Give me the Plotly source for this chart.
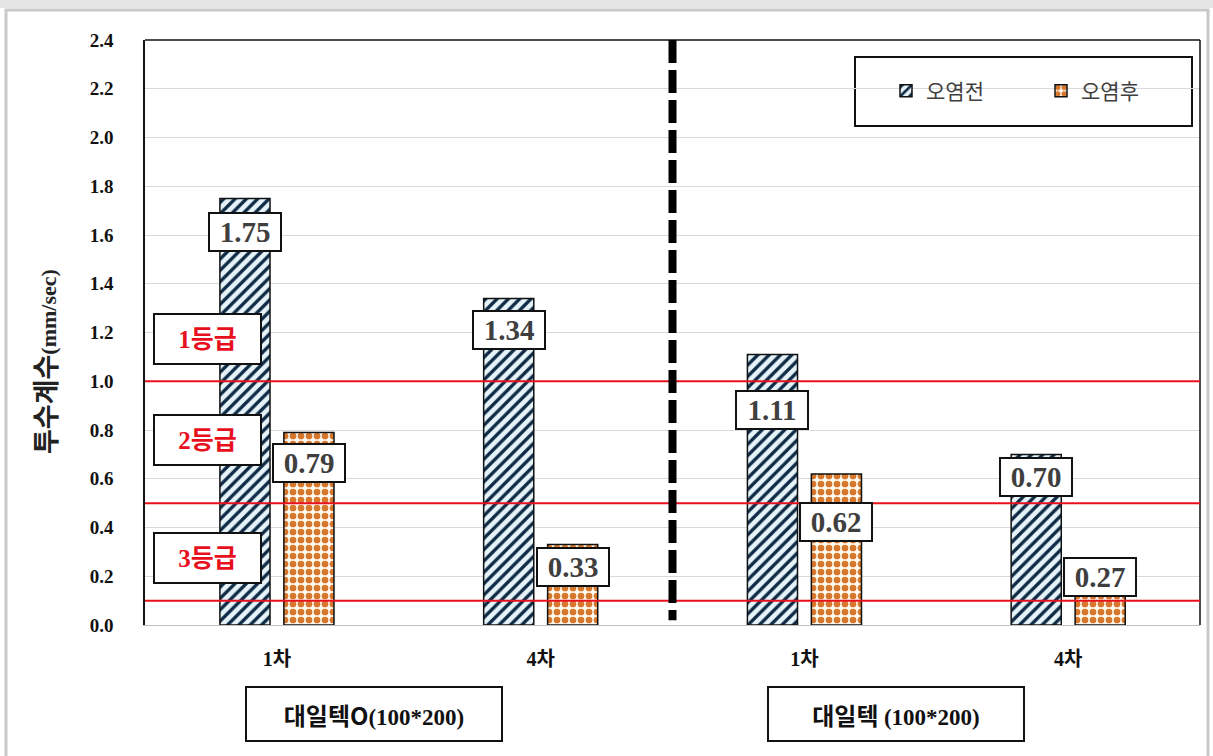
import plotly.graph_objects as go

# ---------------- data ----------------
categories = ["1차", "4차", "1차", "4차"]
before_vals = [1.75, 1.34, 1.11, 0.70]   # 오염전
after_vals = [0.79, 0.33, 0.62, 0.27]    # 오염후
series_names = ["오염전", "오염후"]
grade_lines = [1.0, 0.5, 0.1]
grade_names = ["1등급", "2등급", "3등급"]
group_names = ["대일텍O", "대일텍 "]
group_size = "(100*200)"
y_ticks = [0.0, 0.2, 0.4, 0.6, 0.8, 1.0, 1.2, 1.4, 1.6, 1.8, 2.0, 2.2, 2.4]

# ---------------- layout constants (placement only) ----------------
W, H = 1213, 756
L, R, T, B = 145, 13, 40, 131
PW, PH = W - L - R, H - T - B
def px_x(p):  # pixel -> paper x
    return (p - L) / PW
def px_y(p):  # pixel -> paper y
    return (H - B - p) / PH

BAR_W = 0.19
BLUE_OFF = -0.216
ORANGE_OFF = 0.0265
before_label_y = [1.614, 1.21, 0.882, 0.607]
after_label_y = [0.665, 0.238, 0.423, 0.197]
grade_label_y = [1.173, 0.759, 0.275]
group_box_px = [374, 896]

xs = list(range(len(categories)))
serif = "Liberation Serif, Noto Sans CJK KR"
kr = "Noto Sans CJK KR"

fig = go.Figure()
fig.add_trace(go.Bar(
    x=xs, y=before_vals, name=series_names[0], width=BAR_W, offset=BLUE_OFF,
    marker=dict(color="#dcedf4", line=dict(color="#111111", width=1.5),
                pattern=dict(shape="/", fgcolor="#0f2a45", bgcolor="#e6f4fa",
                             size=8, solidity=0.42, fgopacity=1, fillmode="replace")),
))
fig.add_trace(go.Bar(
    x=xs, y=after_vals, name=series_names[1], width=BAR_W, offset=ORANGE_OFF,
    marker=dict(color="#d9772b", line=dict(color="#111111", width=1.5),
                pattern=dict(shape=".", fgcolor="#d7772c", bgcolor="#fffaf2",
                             size=8, solidity=0.55, fgopacity=1, fillmode="replace")),
))

annotations = []
bc = BLUE_OFF + BAR_W / 2
oc = ORANGE_OFF + BAR_W / 2
for i in xs:
    for val, ly, off in ((before_vals[i], before_label_y[i], bc),
                         (after_vals[i], after_label_y[i], oc)):
        annotations.append(dict(
            x=i + off, y=ly, xref="x", yref="y", xanchor="center", yanchor="middle",
            text=f"<b>{val:.2f}</b>",
            showarrow=False, font=dict(family=serif, size=29, color="#3f3f3f"),
            bgcolor="white", bordercolor="#111111", borderwidth=2, borderpad=2,
            width=66, height=32, align="center", valign="middle"))

for g, gy in zip(grade_names, grade_label_y):
    annotations.append(dict(
        x=px_x(207), y=gy, xref="paper", yref="y", xanchor="center", yanchor="middle",
        text=f"<b>{g}</b>", showarrow=False,
        font=dict(family=serif, size=25, color="#e8101c"),
        bgcolor="white", bordercolor="#111111", borderwidth=2, borderpad=2,
        width=101, height=44, align="center", valign="middle"))

for name, gx in zip(group_names, group_box_px):
    annotations.append(dict(
        x=px_x(gx), y=px_y(714), xref="paper", yref="paper",
        xanchor="center", yanchor="middle",
        text=(f"<b>{name}</b><span style='font-family:Liberation Serif;font-size:23px'>"
              f"<b>{group_size}</b></span>"),
        showarrow=False, font=dict(family=kr, size=24, color="#111111"),
        bgcolor="white", bordercolor="#111111", borderwidth=2, borderpad=2,
        width=250, height=48, align="center", valign="middle"))

# y-axis title
annotations.append(dict(
    x=px_x(44), y=px_y(362), xref="paper", yref="paper", textangle=-90,
    xanchor="center", yanchor="middle",
    text=("<b>투수계수</b><span style='font-family:Liberation Serif;font-size:22px'>"
          "<b>(mm/sec)</b></span>"),
    showarrow=False, font=dict(family=kr, size=27, color="#222222")))

shapes = []
# top strip & outer frame
shapes.append(dict(type="rect", xref="paper", yref="paper", x0=px_x(0), x1=px_x(W),
                   y0=px_y(8), y1=px_y(0), fillcolor="#e4e4e4", line=dict(width=0),
                   layer="below"))
shapes.append(dict(type="rect", xref="paper", yref="paper", x0=px_x(6), x1=px_x(1208),
                   y0=px_y(760), y1=px_y(10), fillcolor="rgba(0,0,0,0)",
                   line=dict(color="#c9c9c9", width=3), layer="below"))
# plot border top & right
shapes.append(dict(type="line", xref="paper", yref="paper", x0=0, x1=1, y0=1, y1=1,
                   line=dict(color="#111111", width=1.5)))
shapes.append(dict(type="line", xref="paper", yref="paper", x0=1, x1=1, y0=0, y1=1,
                   line=dict(color="#111111", width=1.5)))
# grade lines
for gl in grade_lines:
    shapes.append(dict(type="line", xref="paper", yref="y", x0=0, x1=1, y0=gl, y1=gl,
                       line=dict(color="#e8101c", width=2), layer="above"))
# dashed separator between the two products
shapes.append(dict(type="line", xref="x", yref="y", x0=1.5, x1=1.5, y0=2.4, y1=0.02,
                   line=dict(color="#000000", width=8, dash="23px,7px")))
# legend box
shapes.append(dict(type="rect", xref="paper", yref="paper", x0=px_x(855), x1=px_x(1192),
                   y0=px_y(126), y1=px_y(57), fillcolor="white",
                   line=dict(color="#111111", width=2), layer="below"))

fig.update_layout(
    width=W, height=H, margin=dict(l=L, r=R, t=T, b=B),
    paper_bgcolor="white", plot_bgcolor="rgba(0,0,0,0)",
    barmode="overlay", showlegend=True,
    legend=dict(orientation="h", x=px_x(886), xanchor="left", y=px_y(91), yanchor="middle",
                bgcolor="rgba(0,0,0,0)", borderwidth=0,
                font=dict(family=kr, size=21, color="#404040"),
                entrywidth=110, itemwidth=30, traceorder="normal"),
    annotations=annotations, shapes=shapes,
    xaxis=dict(range=[-0.5, 3.5], tickmode="array", tickvals=xs,
               ticktext=[f"<b>{c}</b>" for c in categories],
               tickfont=dict(family=serif, size=20, color="#111111"),
               showgrid=False, zeroline=False, showline=True, linecolor="#bfbfbf",
               linewidth=1, ticks="", ticklabelstandoff=16, fixedrange=True),
    yaxis=dict(range=[0, 2.4], tickmode="array", tickvals=y_ticks,
               ticktext=[f"<b>{v:.1f}</b>" for v in y_ticks],
               tickfont=dict(family=serif, size=19, color="#111111"),
               showgrid=True, gridcolor="#d9d9d9", gridwidth=1, zeroline=False,
               showline=True, linecolor="#111111", linewidth=1.5, ticks="",
               ticklabelstandoff=26, fixedrange=True),
)

fig.write_html("out.html")
